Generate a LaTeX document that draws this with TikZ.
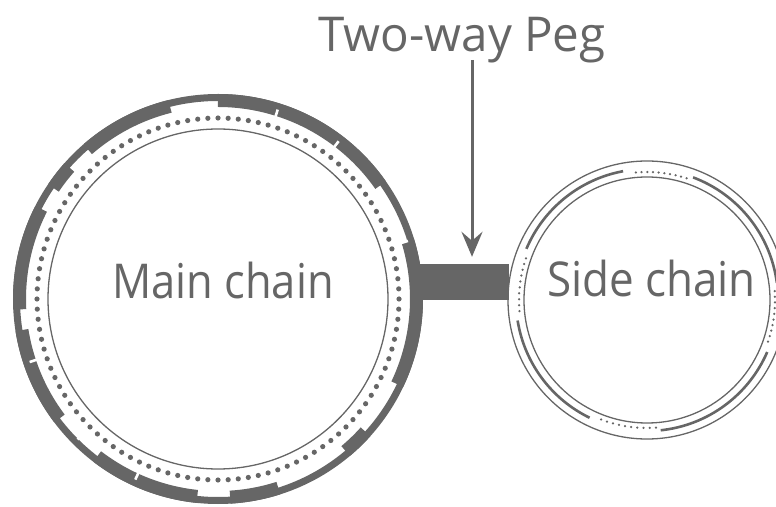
\documentclass[tikz,border=0pt]{standalone}
\usepackage{fontspec}
\setmainfont{Open Sans}
\usetikzlibrary{arrows.meta,calc}
\definecolor{ink}{HTML}{666666}
\begin{document}
\begin{tikzpicture}[x=1pt,y=1pt,
  lbl/.style={text=ink, font=\fontsize{48}{58}\selectfont, anchor=base, inner sep=0pt},
  band/.style={ink, line width=7pt},
  bandthick/.style={ink, line width=13pt},
  notch/.style={white, line width=2.6pt},
  thinring/.style={ink, line width=1.3pt},
  sidearc/.style={ink, line width=2.6pt},
  pegbar/.style={fill=ink, draw=none, minimum width=89pt, minimum height=36pt, inner sep=0pt},
  pegarrow/.style={ink, line width=3pt, -{Stealth[length=25pt, width=21pt, inset=9pt]}}]
\useasboundingbox (0,0) rectangle (776,506);
\clip (0,0) rectangle (776,506);
\coordinate (mc) at (218,207);
\coordinate (sc) at (647,206);
% peg bar
\node[pegbar] (bar) at (464.5,224) {};
% main chain rings
\draw[band] (mc) circle[radius=201.5pt];
\foreach \a/\b in {35/90, 104/131, 138.5/146, 153/183, 189/217, 232.5/264, 273.5/287.7, 310/318, 334.6/377}{
  \draw[bandthick] ($(mc)+(\a:198.5pt)$) arc[start angle=\a, end angle=\b, radius=198.5pt];
}
\foreach \a in {52.6, 72.5, 17, 198.5, 245.4, 225}{
  \draw[notch] ($(mc)+(\a:191pt)$) -- ($(mc)+(\a:198.6pt)$);
}
\foreach \i in {0,...,111}{
  \fill[ink] ($(mc)+(\i*3.2143:181pt)$) circle[radius=2.6pt];
}
\draw[thinring] (mc) circle[radius=170pt];
% side chain rings
\draw[thinring] (sc) circle[radius=139pt];
\draw[thinring] (sc) circle[radius=123pt];
\foreach \a/\b in {7.5/69.4, 100.5/157, 189/244, 276/336.6}{
  \draw[sidearc] ($(sc)+(\a:131pt)$) arc[start angle=\a, end angle=\b, radius=131pt];
}
\foreach \s/\e in {72/95, 161/185, 249/274, 341/364}{
  \foreach \k in {0,...,9}{
    \fill[ink] ($(sc)+({\s+\k*(\e-\s)/9}:128pt)$) circle[radius=1.25pt];
  }
}
% labels
\node[lbl] (mainlbl) at (223,207) {\scalebox{0.905}[1]{Main chain}};
\node[lbl] (sidelbl) at (651.5,209) {\scalebox{0.916}[1]{Side chain}};
\node[lbl] (peg) at (462,454) {\scalebox{0.99}[1]{Two-way Peg}};
\coordinate (arrowtop) at (472,446);
\draw[pegarrow, shorten >=7pt] (arrowtop) -- (arrowtop |- bar.north);
\end{tikzpicture}
\end{document}
